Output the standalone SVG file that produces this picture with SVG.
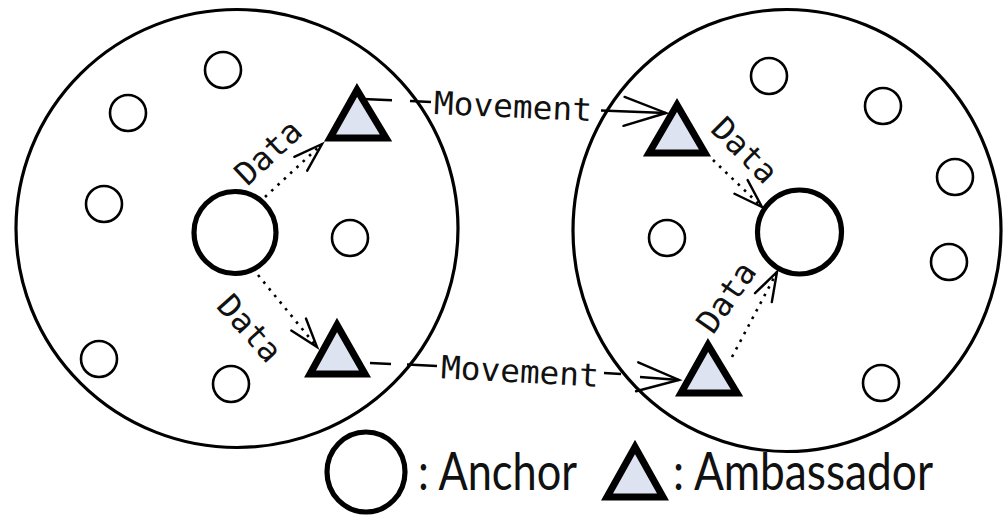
<svg xmlns="http://www.w3.org/2000/svg" width="1003" height="517" viewBox="0 0 1003 517">
<style>
.region{fill:none;stroke:#000;stroke-width:3.2}
.node{fill:#fff;stroke:#000;stroke-width:2.6}
.anchor{fill:#fff;stroke:#000;stroke-width:5.2}
.amb{fill:#dde3f0;stroke:#000;stroke-width:7;stroke-linejoin:miter}
.mv{fill:none;stroke:#000;stroke-width:2.4}
.dot{fill:none;stroke:#000;stroke-width:2.6;stroke-dasharray:2.6 6}
.lbl{font-family:"DejaVu Sans Mono","Liberation Mono",monospace;font-size:32px;fill:#111;text-anchor:middle}
.leg{font-family:Lato,"Liberation Sans",sans-serif;font-size:52px;fill:#111}
</style>
<defs>
<marker id="vData" markerUnits="userSpaceOnUse" orient="auto" overflow="visible" markerWidth="40" markerHeight="40" refX="0" refY="0">
<path d="M-29,-9.5 L0,0 L-29,9.5" fill="none" stroke="#000" stroke-width="2.4" stroke-linecap="round"/>
</marker>
<marker id="vMove" markerUnits="userSpaceOnUse" orient="auto" overflow="visible" markerWidth="60" markerHeight="60" refX="0" refY="0">
<path d="M-42,-14.5 L0,0 L-42,14.5" fill="none" stroke="#000" stroke-width="2.4" stroke-linecap="round"/>
</marker>
</defs>
<rect width="1003" height="517" fill="#fff"/>
<g id="region-left"><ellipse class="region" cx="237" cy="228.5" rx="221" ry="219"/></g>
<g id="region-right"><ellipse class="region" cx="787" cy="230.5" rx="214" ry="221"/></g>
<g id="left-nodes">
<g id="l-n1"><circle class="node" cx="223" cy="70" r="18"/></g>
<g id="l-n2"><circle class="node" cx="128" cy="113" r="18"/></g>
<g id="l-n3"><circle class="node" cx="104" cy="204" r="18"/></g>
<g id="l-n4"><circle class="node" cx="350" cy="238" r="18"/></g>
<g id="l-n5"><circle class="node" cx="99" cy="359" r="18"/></g>
<g id="l-n6"><circle class="node" cx="231" cy="384" r="18"/></g>
<g id="l-anchor"><circle class="anchor" cx="235" cy="232.5" r="41"/></g>
<g id="l-amb1"><polygon class="amb" points="357,90 330,138 386,138"/></g>
<g id="l-amb2"><polygon class="amb" points="337,325 310,374 365,374"/></g>
</g>
<g id="right-nodes">
<g id="r-n1"><circle class="node" cx="769" cy="76" r="18"/></g>
<g id="r-n2"><circle class="node" cx="883" cy="106" r="18"/></g>
<g id="r-n3"><circle class="node" cx="955" cy="177" r="18"/></g>
<g id="r-n4"><circle class="node" cx="667" cy="238" r="18"/></g>
<g id="r-n5"><circle class="node" cx="949" cy="262" r="18"/></g>
<g id="r-n6"><circle class="node" cx="881" cy="383" r="18"/></g>
<g id="r-anchor"><circle class="anchor" cx="799.5" cy="232" r="42"/></g>
<g id="r-amb1"><polygon class="amb" points="677,105 649,153 705,153"/></g>
<g id="r-amb2"><polygon class="amb" points="708,345 681,393 737,393"/></g>
</g>
<g id="connectors">
<g id="move-upper">
<line class="mv" x1="363" y1="99" x2="392" y2="100.3"/>
<line class="mv" x1="410" y1="101" x2="431" y2="102"/>
<line class="mv" x1="601" y1="110.5" x2="666" y2="113" marker-end="url(#vMove)"/>
<g transform="translate(513,106) rotate(2.6)"><text class="lbl" x="0" y="11.5" textLength="158" lengthAdjust="spacingAndGlyphs">Movement</text></g>
</g>
<g id="move-lower">
<line class="mv" x1="370" y1="363" x2="391" y2="364"/>
<line class="mv" x1="407" y1="364.5" x2="437" y2="366"/>
<line class="mv" x1="604" y1="373" x2="621" y2="374"/>
<line class="mv" x1="640" y1="377" x2="679" y2="380" marker-end="url(#vMove)"/>
<g transform="translate(520,371) rotate(3.1)"><text class="lbl" x="0" y="11.5" textLength="158" lengthAdjust="spacingAndGlyphs">Movement</text></g>
</g>
<g id="data-ul">
<line class="dot" x1="265" y1="197" x2="322" y2="144" marker-end="url(#vData)"/>
<g transform="translate(268,152) rotate(-43)"><text class="lbl" x="0" y="11.5" textLength="78" lengthAdjust="spacingAndGlyphs">Data</text></g>
</g>
<g id="data-ll">
<line class="dot" x1="258" y1="275" x2="317" y2="347" marker-end="url(#vData)"/>
<g transform="translate(250,328) rotate(48)"><text class="lbl" x="0" y="11.5" textLength="78" lengthAdjust="spacingAndGlyphs">Data</text></g>
</g>
<g id="data-ur">
<line class="dot" x1="713" y1="160" x2="762" y2="207" marker-end="url(#vData)"/>
<g transform="translate(745,150) rotate(45)"><text class="lbl" x="0" y="11.5" textLength="78" lengthAdjust="spacingAndGlyphs">Data</text></g>
</g>
<g id="data-lr">
<line class="dot" x1="732" y1="357" x2="777" y2="272" marker-end="url(#vData)"/>
<g transform="translate(726,297) rotate(-55)"><text class="lbl" x="0" y="11.5" textLength="78" lengthAdjust="spacingAndGlyphs">Data</text></g>
</g>
</g>
<g id="legend">
<g id="legend-anchor">
<ellipse class="anchor" cx="366" cy="472" rx="39" ry="40" stroke-width="6"/>
<text class="leg" x="418" y="490" textLength="159" lengthAdjust="spacingAndGlyphs">: Anchor</text>
</g>
<g id="legend-ambassador">
<polygon class="amb" points="635,447 607,497 663,497"/>
<text class="leg" x="673" y="490" textLength="260" lengthAdjust="spacingAndGlyphs">: Ambassador</text>
</g>
</g>
</svg>
